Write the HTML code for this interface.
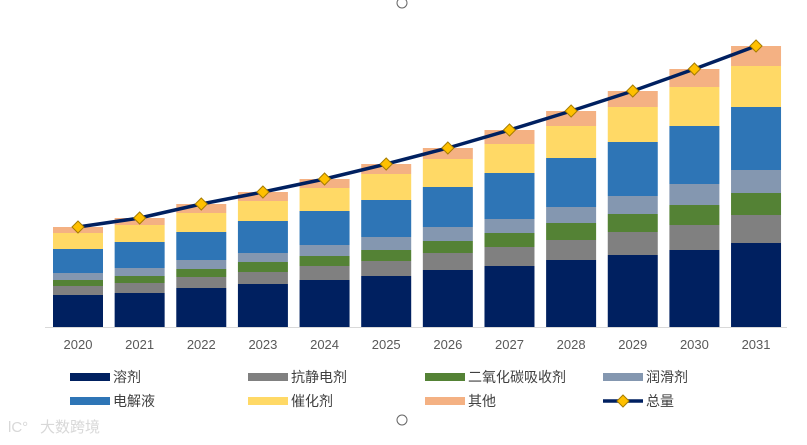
<!DOCTYPE html>
<html><head><meta charset="utf-8"><style>
body{margin:0;background:#fff;width:807px;height:440px;overflow:hidden;font-family:"Liberation Sans","Noto Sans CJK SC",sans-serif}
</style></head><body>
<svg id="chart" width="807" height="440" xmlns="http://www.w3.org/2000/svg">
<circle cx="402" cy="3" r="5" fill="#fff" stroke="#666"/>
<circle cx="402" cy="420" r="5" fill="#fff" stroke="#666"/>
<g id="bars"></g>
<line x1="45" y1="327.5" x2="787" y2="327.5" stroke="#d9d9d9" stroke-width="1"/>
<g id="xlabels"></g>
<g id="line"></g>
<g id="legend"></g>
<text x="40" y="432" font-size="15" fill="#d8d8d8">大数跨境</text>
<text x="8" y="432" font-size="15" fill="#d8d8d8">lC°</text>
</svg>
<script>
const years=["2020","2021","2022","2023","2024","2025","2026","2027","2028","2029","2030","2031"];
const solvent=[32,34,39,43,47,51,57,61,67,72,77,84];
const antistatic=[9,10,11,12,14,15,17,19,20,23,25,28];
const co2=[6,7,8,10,10,11,12,14,17,18,20,22];
const lubricant=[7,8,9,9,11,13,14,14,16,18,21,23];
const electrolyte=[24,26,28,32,34,37,40,46,49,54,58,63];
const catalyst=[16,17,19,20,23,26,28,29,32,35,39,41];
const other=[6,7,9,9,9,10,11,14,15,16,18,20];
const seriesNames=["溶剂","抗静电剂","二氧化碳吸收剂","润滑剂","电解液","催化剂","其他"];
const NS="http://www.w3.org/2000/svg";
const series=[solvent,antistatic,co2,lubricant,electrolyte,catalyst,other];
const colors=["#002060","#808080","#548235","#8497b0","#2e75b6","#ffd966","#f4b183"];
const keys=["solvent","antistatic","co2","lubricant","electrolyte","catalyst","other"];
const base=327, scale=1.0;
const y=v=>base-v*scale;
const x=i=>78+i*61.64;
const bw=50;
function mk(t,a,p){const e=document.createElementNS(NS,t);for(const k in a)e.setAttribute(k,a[k]);p.appendChild(e);return e;}
const bars=document.getElementById('bars');
const totals=years.map((_,i)=>series.reduce((s,a)=>s+a[i],0));
years.forEach((yr,i)=>{
  let cum=0;
  series.forEach((s,j)=>{
    const r=mk('rect',{x:x(i)-bw/2,y:y(cum+s[i]),width:bw,height:s[i]*scale,fill:colors[j]},bars);
    
    
    cum+=s[i];
  });
  const t=mk('text',{x:x(i),y:349,'text-anchor':'middle','font-size':13,fill:'#595959'},document.getElementById('xlabels'));
  
  
  t.textContent=yr;
});
const lg=document.getElementById('line');
const pl=mk('polyline',{points:years.map((_,i)=>x(i)+','+y(totals[i])).join(' '),fill:'none',stroke:'#002060','stroke-width':3.5},lg);


years.forEach((yr,i)=>{
  const cx=x(i),cy=y(totals[i]);
  const d=mk('polygon',{points:`${cx},${cy-6} ${cx+6},${cy} ${cx},${cy+6} ${cx-6},${cy}`,fill:'#ffc000',stroke:'#a67c00','stroke-width':1},lg);
  
  
});
const leg=document.getElementById('legend');
const lpos=[[70,377],[248,377],[425,377],[603,377],[70,401],[248,401],[425,401]];
seriesNames.forEach((n,j)=>{
  const [lx,ly]=lpos[j];
  const r=mk('rect',{x:lx,y:ly-4,width:40,height:8,fill:colors[j]},leg);
  
  
  const t=mk('text',{x:lx+43,y:ly+5,'font-size':14,fill:'#404040'},leg);
  
  
  t.textContent=n;
});
const ll=mk('line',{x1:603,y1:401,x2:643,y2:401,stroke:'#002060','stroke-width':3.5},leg);


const ld=mk('polygon',{points:'623,395 629,401 623,407 617,401',fill:'#ffc000',stroke:'#a67c00'},leg);


const lt=mk('text',{x:646,y:406,'font-size':14,fill:'#404040'},leg);


lt.textContent='总量';
</script>
</body></html>
